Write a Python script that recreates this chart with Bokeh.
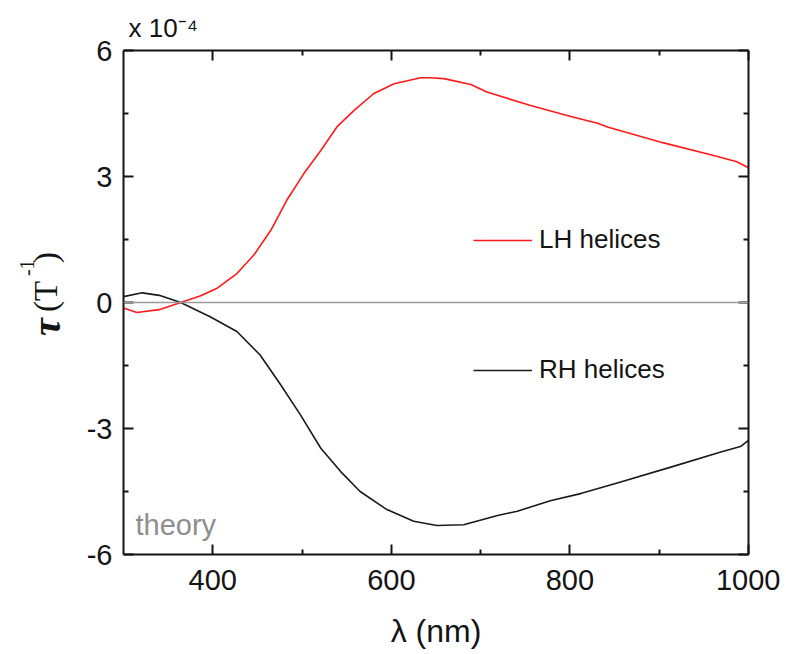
import math
from bokeh.plotting import figure
from bokeh.layouts import row
from bokeh.models import (Range1d, LinearAxis, FixedTicker, CustomJSTickFormatter,
                          Label, Legend, LegendItem, Span, Title)
from bokeh.embed import file_html
from bokeh.resources import INLINE

# wavelength (nm) and tau (units of 1e-4 T^-1)
lh_wavelength = [300, 315, 340, 364, 385, 405, 427, 446, 465, 483, 502, 521, 539, 558,
                 580, 603, 633, 644, 659, 689, 707, 756, 801, 831, 842, 905, 961, 987, 1000]
lh_tau = [-0.13, -0.24, -0.17, 0.0, 0.15, 0.34, 0.69, 1.13, 1.72, 2.44, 3.07, 3.62, 4.18, 4.57,
          4.97, 5.21, 5.35, 5.35, 5.33, 5.19, 5.01, 4.69, 4.43, 4.27, 4.18, 3.80, 3.50, 3.35, 3.21]

rh_wavelength = [300, 321, 340, 364, 397, 427, 453, 476, 498, 521, 543, 565, 595, 625,
                 651, 681, 719, 741, 778, 812, 853, 913, 969, 991, 1000]
rh_tau = [0.14, 0.23, 0.17, 0.0, -0.34, -0.69, -1.25, -1.96, -2.67, -3.47, -4.02, -4.50, -4.93,
          -5.21, -5.31, -5.29, -5.07, -4.97, -4.72, -4.55, -4.30, -3.92, -3.56, -3.43, -3.28]

x_major = [400, 600, 800, 1000]
x_minor = [500, 700, 900]
y_major = [-6, -3, 0, 3, 6]
y_minor = [-4.5, -1.5, 1.5, 4.5]

SANS = "Liberation Sans"
SERIF = "Liberation Serif"
AX = "#141414"
H = 651
LEFT_W = 80
TOP = 50
BOTTOM = 96

# ---------- main plot ----------
p = figure(width=700, height=H, output_backend="svg", toolbar_location=None,
           x_range=Range1d(300, 1000), y_range=Range1d(-6, 6),
           x_axis_type=None, y_axis_type=None,
           min_border_left=123 - LEFT_W, min_border_right=700 - (748 - LEFT_W),
           min_border_top=TOP, min_border_bottom=BOTTOM)
p.outline_line_color = None
p.background_fill_color = "white"
p.border_fill_color = "white"

xt = FixedTicker(ticks=x_major, minor_ticks=x_minor)
yt = FixedTicker(ticks=y_major, minor_ticks=y_minor)
blank = CustomJSTickFormatter(code="return ''")
plain = CustomJSTickFormatter(code="return tick.toString()")

def style(ax):
    ax.axis_line_color = AX
    ax.axis_line_width = 2
    ax.major_tick_line_color = AX
    ax.minor_tick_line_color = AX
    ax.major_tick_line_width = 2
    ax.minor_tick_line_width = 2
    ax.major_tick_in = 10
    ax.major_tick_out = 0
    ax.minor_tick_in = 5
    ax.minor_tick_out = 0
    ax.major_label_text_font = SANS
    ax.major_label_text_font_size = "29px"
    ax.major_label_text_color = AX

xb = LinearAxis(ticker=xt, formatter=plain, axis_label="λ (nm)")
style(xb)
xb.major_label_standoff = 15
xb.axis_label_text_font = SANS
xb.axis_label_text_font_size = "32px"
xb.axis_label_text_font_style = "normal"
xb.axis_label_text_color = AX
xb.axis_label_standoff = 20
p.add_layout(xb, "below")

yl = LinearAxis(ticker=yt, formatter=plain)
style(yl)
yl.major_label_standoff = 11
p.add_layout(yl, "left")

xa = LinearAxis(ticker=xt, formatter=blank)
style(xa)
xa.major_label_standoff = 0
p.add_layout(xa, "above")

yr = LinearAxis(ticker=yt, formatter=blank)
style(yr)
yr.major_label_standoff = 0
p.add_layout(yr, "right")

# thin spacer between the top axis and the "x 10^-4" note
p.add_layout(Title(text=" ", standoff=0, text_font=SANS, text_font_size="6px"), "above")
p.add_layout(Title(text="x 10⁻⁴", align="left", offset=5, standoff=0,
                   text_font=SANS, text_font_size="26px", text_font_style="normal",
                   text_color=AX), "above")

p.add_layout(Span(location=0, dimension="width", line_color="#9a9a9a", line_width=1.5))

r_lh = p.line(lh_wavelength, lh_tau, line_color="#ff1a1a", line_width=1.6, line_join="round")
r_rh = p.line(rh_wavelength, rh_tau, line_color="#1a1a1a", line_width=1.6, line_join="round")

def make_legend(label, renderer, loc):
    lg = Legend(items=[LegendItem(label=label, renderers=[renderer])], location=loc,
                padding=0, margin=0, spacing=0, glyph_width=59, glyph_height=24,
                label_height=24, label_standoff=7, label_text_font=SANS,
                label_text_font_size="26px", label_text_color=AX,
                border_line_color=None, background_fill_alpha=0)
    p.add_layout(lg, "center")

make_legend("LH helices", r_lh, (350, 299))
make_legend("RH helices", r_rh, (350, 169))

p.add_layout(Label(x=12, y=30, x_units="screen", y_units="screen", text="theory",
                   text_font=SANS, text_font_size="29px", text_color="#8e8e8e",
                   text_baseline="alphabetic"))

# ---------- y-axis title strip (frame aligned with the main frame) ----------
q = figure(width=LEFT_W, height=H, output_backend="svg", toolbar_location=None,
           x_range=Range1d(0, LEFT_W), y_range=Range1d(555, 50),
           x_axis_type=None, y_axis_type=None,
           min_border_left=0, min_border_right=0, min_border_top=TOP, min_border_bottom=BOTTOM)
q.outline_line_color = None
q.xgrid.visible = False
q.ygrid.visible = False
q.background_fill_color = "white"
q.border_fill_color = "white"

ang = math.pi / 2
def vlabel(x, y_page, text, size, style="normal"):
    q.add_layout(Label(x=x, y=y_page, text=text, angle=ang, text_font=SERIF,
                       text_font_size=size, text_font_style=style, text_color=AX,
                       text_align="left", text_baseline="alphabetic"))

vlabel(46, 336, "τ", "40px", "bold italic")
vlabel(45, 312, "(T", "33px")
vlabel(26, 276, "-1", "20px")
vlabel(45, 263, ")", "33px")

layout = row(q, p)
open("out.html", "w").write(file_html(layout, INLINE))
